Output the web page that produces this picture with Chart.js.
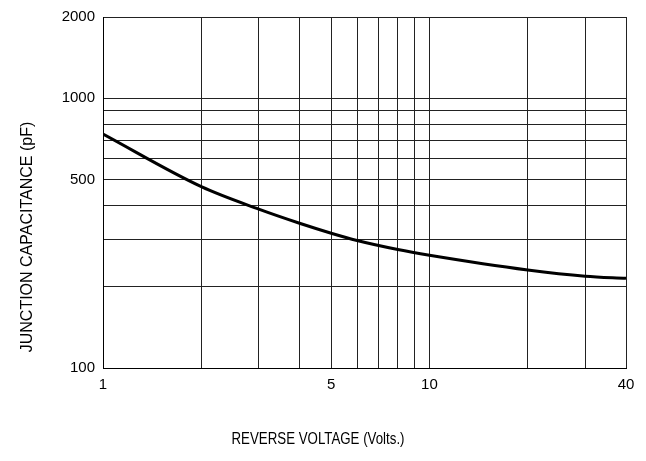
<!DOCTYPE html>
<html>
<head>
<meta charset="utf-8">
<script src="https://cdn.jsdelivr.net/npm/chart.js@4/dist/chart.umd.min.js"></script>
<style>
	body { margin: 0; background: #fff; }
	canvas { display: block; }
</style>
</head>
<body>
<canvas id="cap-chart" width="646" height="461"></canvas>
<script>
// Reverse voltage (V) vs junction capacitance (pF)
var voltages = [1, 2, 3, 4, 5, 6, 8, 10, 20, 30, 40];
var capacitances = [736, 470, 388, 344, 316, 297, 275, 262, 231, 219, 215];

var xGridValues = [1, 2, 3, 4, 5, 6, 7, 8, 9, 10, 20, 30, 40];
var xTickLabels = [1, 5, 10, 40];
var yGridValues = [100, 200, 300, 400, 500, 600, 700, 800, 900, 1000, 2000];
var yTickLabels = [100, 500, 1000, 2000];

var xTitle = 'REVERSE VOLTAGE (Volts.)';
var yTitle = 'JUNCTION CAPACITANCE (pF)';

var tickFont = {family: "'Liberation Sans', sans-serif", size: 15};

//Titles sit off-centre in the original, so draw them by hand
var axisTitles = {
	id: 'axisTitles',
	afterDraw: function(chart) {
		var ctx = chart.ctx;
		ctx.save();
		ctx.fillStyle = '#000';
		ctx.font = "16px 'Liberation Sans', sans-serif";
		ctx.textAlign = 'center';
		ctx.textBaseline = 'middle';
		ctx.fillText(xTitle, 318, 440, 173);

		ctx.translate(28, 237);
		ctx.rotate(-Math.PI / 2);
		ctx.fillText(yTitle, 0, 0, 232);
		ctx.restore();
	}
};

var points = voltages.map(function(v, i) {
	return {x: v, y: capacitances[i]};
});

new Chart(document.getElementById('cap-chart'), {
	type: 'line',
	data: {
		datasets: [{
			data: points,
			borderColor: '#000',
			borderWidth: 3,
			pointRadius: 0,
			fill: false,
			cubicInterpolationMode: 'monotone'
		}]
	},
	options: {
		responsive: false,
		animation: false,
		layout: {
			padding: {left: 0, right: 20, top: 14, bottom: 0}
		},
		plugins: {
			legend: {display: false},
			tooltip: {enabled: false}
		},
		scales: {
			x: {
				type: 'logarithmic',
				min: 1,
				max: 40,
				afterBuildTicks: function(scale) {
					scale.ticks = xGridValues.map(function(v) { return {value: v}; });
				},
				afterFit: function(scale) {
					scale.height = 93;
				},
				grid: {color: '#222', lineWidth: 1, tickLength: 0},
				border: {color: '#000', width: 1},
				ticks: {
					autoSkip: false,
					maxRotation: 0,
					padding: 8,
					color: '#000',
					font: tickFont,
					callback: function(value) {
						return xTickLabels.indexOf(value) >= 0 ? String(value) : '';
					}
				}
			},
			y: {
				type: 'logarithmic',
				min: 100,
				max: 2000,
				afterBuildTicks: function(scale) {
					scale.ticks = yGridValues.map(function(v) { return {value: v}; });
				},
				afterFit: function(scale) {
					scale.width = 103;
				},
				grid: {color: '#222', lineWidth: 1, tickLength: 0},
				border: {color: '#000', width: 1},
				ticks: {
					autoSkip: false,
					padding: 8,
					color: '#000',
					font: tickFont,
					callback: function(value) {
						return yTickLabels.indexOf(value) >= 0 ? String(value) : '';
					}
				}
			}
		}
	},
	plugins: [axisTitles]
});
</script>
</body>
</html>
